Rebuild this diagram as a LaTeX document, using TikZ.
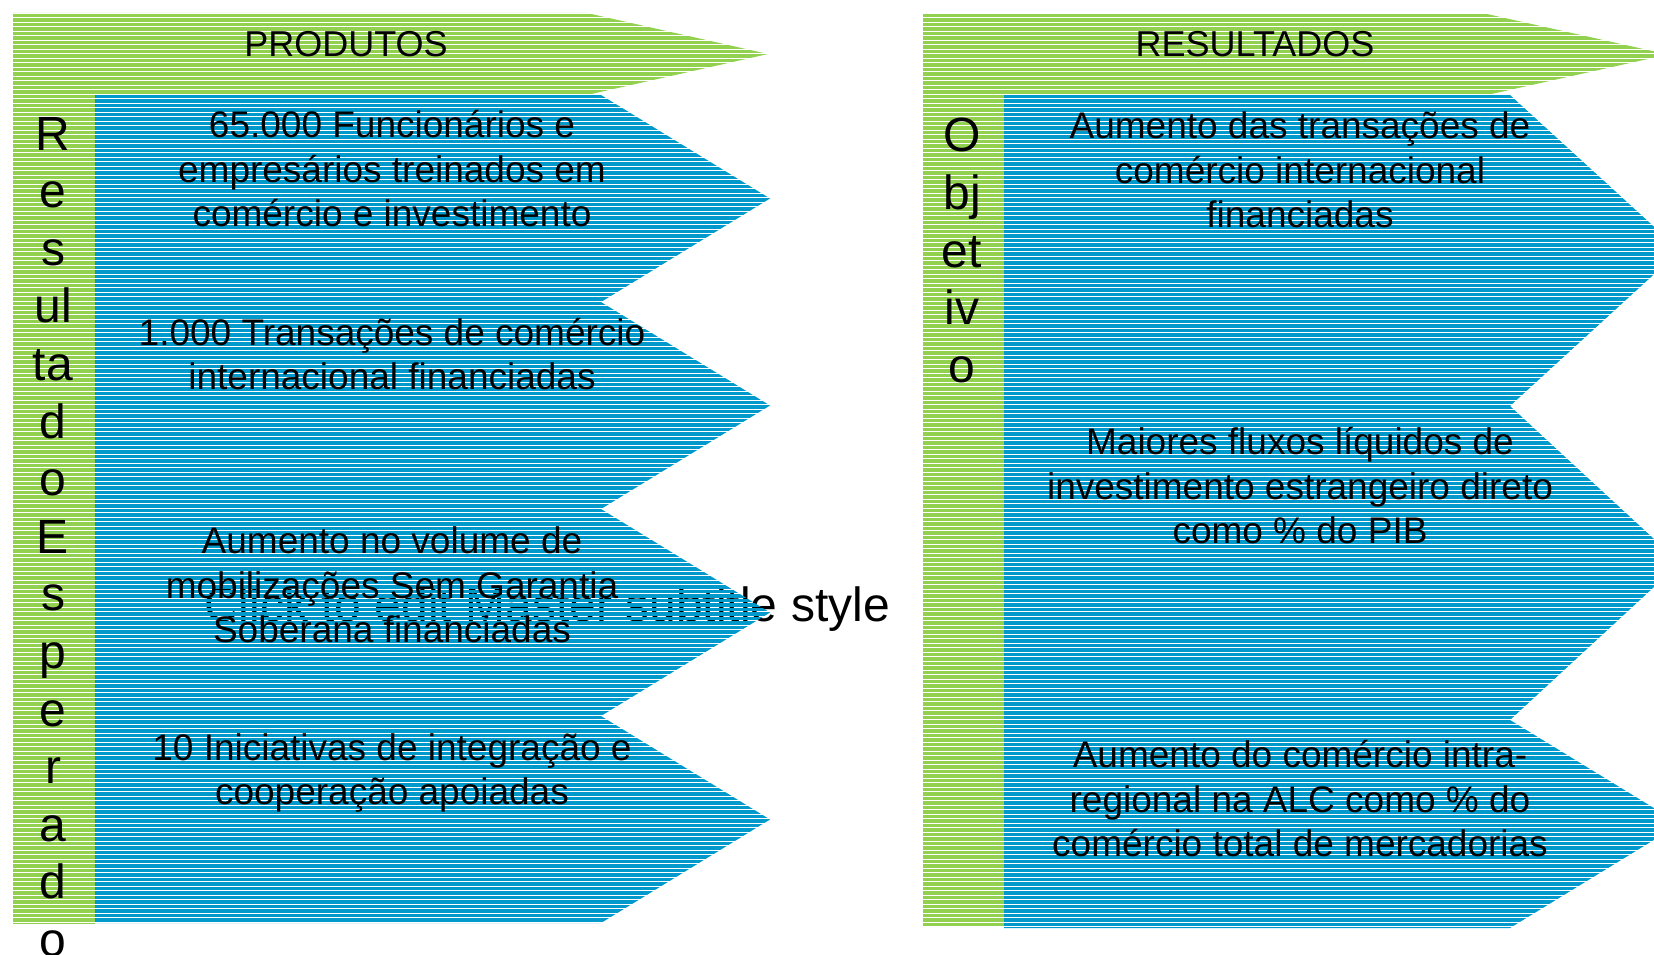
\documentclass[tikz,border=0pt]{standalone}
\usepackage{fontspec}
\setmainfont{Liberation Sans}
\usepackage{tikz}
\definecolor{leafgreen}{RGB}{146,208,80}
\definecolor{seablue}{RGB}{0,153,204}

\begin{document}
\begin{tikzpicture}[x=1pt,y=-1pt,
	stripe/.style={line width=3.4pt, draw=#1},
	headtext/.style={font=\fontsize{36}{40}\selectfont, anchor=base, inner sep=0pt},
	itemtext/.style={font=\fontsize{37}{44.5}\selectfont, align=center, inner sep=0pt},
	vlet/.style={font=\fontsize{48}{48}\selectfont, anchor=base, inner sep=0pt}]
	\newcommand\Chev[5]{(#1,#2) -- (#3,#2) -- (#5,{(#2+#4)/2}) -- (#3,#4) -- (#1,#4) -- cycle}
	\newcommand\Striped[2]{\begin{scope}\clip #2;
		\foreach \y in {2,6.5,...,955} \draw[stripe=#1] (0,\y) -- (1654,\y);
		\end{scope}}
	\path[use as bounding box, clip] (0,0) rectangle (1654,955);

	% text lying under the arrows
	\node[font=\fontsize{48}{48}\selectfont, inner sep=0pt] (subtitle) at (547,609) {Click to edit Master subtitle style};

	% left side
	\Striped{leafgreen}{\Chev{13}{13}{587}{95}{768}}
	\Striped{leafgreen}{(13,95) rectangle (95,923)}
	\Striped{seablue}{\Chev{95}{95}{601}{302}{770}}
	\Striped{seablue}{\Chev{95}{302}{601}{509}{770}}
	\Striped{seablue}{\Chev{95}{509}{601}{716}{770}}
	\Striped{seablue}{\Chev{95}{716}{601}{923}{770}}

	% right side
	\Striped{leafgreen}{\Chev{923}{14}{1487}{95}{1668}}
	\Striped{leafgreen}{(923,95) rectangle (1004,925)}
	\Striped{seablue}{\Chev{1004}{95}{1510}{406}{1680}}
	\Striped{seablue}{\Chev{1004}{406}{1510}{720}{1680}}
	\Striped{seablue}{\Chev{1004}{720}{1510}{928}{1680}}

	\node[headtext] (prodhead) at (346,57) {PRODUTOS};
	\node[headtext] (reshead) at (1255,57) {RESULTADOS};

	\foreach \c [count=\i] in {R,e,s,ul,ta,d,o,E,s,p,e,r,a,d,o}
		\node[vlet] (lv\i) at (53,{150+57.6*(\i-1)}) {\c};
	\foreach \c [count=\i] in {O,bj,et,iv,o}
		\node[vlet] (rv\i) at (962,{152+57.6*(\i-1)}) {\c};

	\node[itemtext] (prod1) at (392,169) {65.000 Funcionários e\\empresários treinados em\\comércio e investimento};
	\node[itemtext] (prod2) at (392,354) {1.000 Transações de comércio\\internacional financiadas};
	\node[itemtext] (prod3) at (392,585) {Aumento no volume de\\mobilizações Sem Garantia\\Soberana financiadas};
	\node[itemtext] (prod4) at (392,773) {10 Iniciativas de integração e\\cooperação apoiadas};

	\node[itemtext] (res1) at (1300,170) {Aumento das transações de\\comércio internacional\\financiadas};
	\node[itemtext] (res2) at (1300,486) {Maiores fluxos líquidos de\\investimento estrangeiro direto\\como \% do PIB};
	\node[itemtext] (res3) at (1300,799) {Aumento do comércio intra-\\regional na ALC como \% do\\comércio total de mercadorias};
\end{tikzpicture}
\end{document}
